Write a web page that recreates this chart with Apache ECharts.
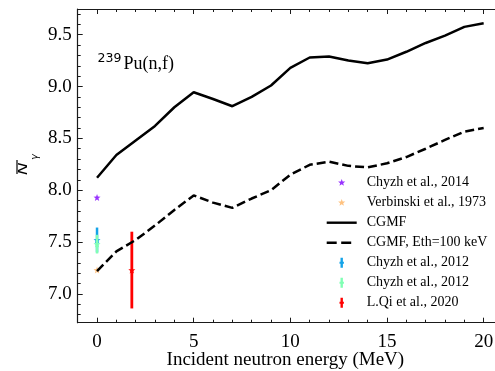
<!DOCTYPE html>
<html><head><meta charset="utf-8">
<script src="https://cdn.jsdelivr.net/npm/echarts@6/dist/echarts.min.js"></script>
<style>html,body{margin:0;padding:0;background:#fff}#c{width:495px;height:371px}</style>
</head><body><div id="c"></div>
<script>
// ---- data ----
const energies = [0,1,2,3,4,5,6,7,8,9,10,11,12,13,14,15,16,17,18,19,20];
const cgmf = [8.12,8.34,8.48,8.62,8.80,8.945,8.88,8.81,8.90,9.01,9.18,9.28,9.29,9.25,9.225,9.26,9.335,9.42,9.49,9.575,9.61];
const cgmfEth100 = [7.22,7.41,7.52,7.66,7.81,7.95,7.88,7.83,7.92,8.00,8.15,8.245,8.275,8.235,8.22,8.26,8.32,8.40,8.485,8.565,8.60];
const chyzh2014 = [[0, 7.93]];
const verbinski1973 = [[0, 7.23]];
const chyzh2012a = [[0, 7.52, 0.12]];
const chyzh2012b = [[0, 7.48, 0.09]];
const qi2020 = [[1.8, 7.23, 0.37]];
const xMajorTicks = [0,5,10,15,20];
const xMinorTicks = [-1,1,2,3,4,6,7,8,9,11,12,13,14,16,17,18,19,21];
const yMajorTicks = [7.0,7.5,8.0,8.5,9.0,9.5];
const yMinorTicks = [6.8,6.9,7.1,7.2,7.3,7.4,7.6,7.7,7.8,7.9,8.1,8.2,8.3,8.4,8.6,8.7,8.8,8.9,9.1,9.2,9.3,9.4,9.6,9.7];
const seriesNames = ['Chyzh et al., 2014','Verbinski et al., 1973','CGMF','CGMF, Eth=100 keV','Chyzh et al., 2012','Chyzh et al., 2012\u200b','L.Qi et al., 2020'];

// ---- styles ----
const SERIF = 'Liberation Serif, Times New Roman, serif';
const AX = '#1a1a1a';
function starPath(cx, cy, R, r) {
  let s = '';
  for (let i = 0; i < 10; i++) {
    const a = -Math.PI / 2 + i * Math.PI / 5;
    const rad = i % 2 ? r : R;
    s += (i ? 'L' : 'M') + (cx + rad * Math.cos(a)).toFixed(2) + ' ' + (cy + rad * Math.sin(a)).toFixed(2);
  }
  return s + 'Z';
}
const STAR = starPath(5, 5, 5, 2.1);
const BOX = 'path://M0 0M35 14';
const iconStar = BOX + starPath(15, 7, 3.8, 1.6);
const iconSolid = BOX + 'M0 5.8H30V8.2H0Z';
const iconDash = BOX + 'M0 5.8H10V8.2H0Z M14.5 5.8H24.5V8.2H14.5Z';
const iconErr = BOX + 'M13.8 2H16.2V12H13.8Z M12.8 6H17.2V8H12.8Z';

const lineOn = { show: true, onZero: false, lineStyle: { color: AX, width: 1.2 } };
const lineOff = { show: false, onZero: false };
const xBase = { type: 'value', min: -1, max: 21, splitLine: { show: false } };
const yMin = 6.7225, yMax = 9.7475;
const yBase = { type: 'value', min: yMin, max: yMax, splitLine: { show: false } };
const tickStyle = { color: AX, width: 1 };

function errRender(color, width) {
  return function (params, api) {
    const x = api.value(0), y = api.value(1), e = api.value(2);
    const t = api.coord([x, y + e]), b = api.coord([x, y - e]), c = api.coord([x, y]);
    return { type: 'group', children: [
      { type: 'line', shape: { x1: t[0], y1: t[1], x2: b[0], y2: b[1] }, style: { stroke: color, lineWidth: width } },
      { type: 'path', shape: { pathData: STAR, x: c[0] - 3.5, y: c[1] - 3.5, width: 7, height: 7 }, style: { fill: color } }
    ] };
  };
}

const chart = echarts.init(document.getElementById('c'), null, { renderer: 'canvas' });
chart.setOption({
  animation: false,
  backgroundColor: '#fff',
  grid: { left: 77.7, top: 9, right: -8, bottom: 48.3, containLabel: false, outerBoundsMode: 'none' },
  xAxis: [
    Object.assign({}, xBase, { position: 'bottom', axisLine: lineOn,
      axisTick: { show: true, inside: true, length: 5, customValues: xMajorTicks, lineStyle: tickStyle },
      axisLabel: { show: true, customValues: xMajorTicks, margin: 10, fontFamily: SERIF, fontSize: 19, color: '#000' },
      name: 'Incident neutron energy (MeV)', nameLocation: 'middle', nameGap: 28, nameMoveOverlap: false,
      nameTextStyle: { fontFamily: SERIF, fontSize: 19, color: '#000', padding: [0, 10, 0, 0] } }),
    Object.assign({}, xBase, { position: 'bottom', axisLine: lineOff,
      axisTick: { show: true, inside: true, length: 3, customValues: xMinorTicks, lineStyle: tickStyle },
      axisLabel: { show: false } }),
    Object.assign({}, xBase, { position: 'top', axisLine: lineOn,
      axisTick: { show: true, inside: true, length: 5, customValues: xMajorTicks, lineStyle: tickStyle },
      axisLabel: { show: false } }),
    Object.assign({}, xBase, { position: 'top', axisLine: lineOff,
      axisTick: { show: true, inside: true, length: 3, customValues: xMinorTicks, lineStyle: tickStyle },
      axisLabel: { show: false } })
  ],
  yAxis: [
    Object.assign({}, yBase, { position: 'left', axisLine: lineOn,
      axisTick: { show: true, inside: true, length: 5, customValues: yMajorTicks, lineStyle: tickStyle },
      axisLabel: { show: true, customValues: yMajorTicks, margin: 6, fontFamily: SERIF, fontSize: 19, color: '#000',
        formatter: v => Number(v).toFixed(1) } }),
    Object.assign({}, yBase, { position: 'left', axisLine: lineOff,
      axisTick: { show: true, inside: true, length: 3, customValues: yMinorTicks, lineStyle: tickStyle },
      axisLabel: { show: false } })
  ],
  legend: {
    orient: 'vertical', left: 326.7, top: 172.7, padding: 0, itemGap: 0,
    itemWidth: 35, itemHeight: 14, selectedMode: false,
    itemStyle: { borderWidth: 0 },
    textStyle: { fontFamily: SERIF, fontSize: 14, color: '#000', lineHeight: 20 },
    data: [
      { name: seriesNames[0], icon: iconStar },
      { name: seriesNames[1], icon: iconStar },
      { name: seriesNames[2], icon: iconSolid },
      { name: seriesNames[3], icon: iconDash },
      { name: seriesNames[4], icon: iconErr },
      { name: seriesNames[5], icon: iconErr },
      { name: seriesNames[6], icon: iconErr }
    ]
  },
  graphic: [
    { type: 'text', x: 97.5, y: 58.5, style: { text: '239', font: '12.5px DejaVu Sans', fill: '#000', verticalAlign: 'middle', align: 'left' } },
    { type: 'text', x: 123.5, y: 64.5, style: { text: 'Pu(n,f)', font: '18px ' + SERIF, fill: '#000', verticalAlign: 'middle', align: 'left' } },
    { type: 'group', x: 30.5, y: 175, rotation: Math.PI / 2, children: [
      { type: 'text', x: 0, y: 0, scaleX: 1.45, style: { text: 'N', font: 'italic 11.5px DejaVu Sans', fill: '#000', align: 'left', verticalAlign: 'bottom' } },
      { type: 'line', shape: { x1: 1, y1: -13.5, x2: 15, y2: -13.5 }, style: { stroke: '#000', lineWidth: 1.2 } },
      { type: 'text', x: 15, y: 4.5, style: { text: 'γ', font: 'italic 10px DejaVu Sans', fill: '#000', align: 'left', verticalAlign: 'middle' } }
    ] }
  ],
  series: [
    { name: seriesNames[3], type: 'line', xAxisIndex: 0, yAxisIndex: 0,
      data: energies.map((e, i) => [e, cgmfEth100[i]]), symbol: 'none', showSymbol: false,
      lineStyle: { color: '#000', width: 2.5, type: [9, 4] }, itemStyle: { color: '#000' }, z: 3 },
    { name: seriesNames[2], type: 'line', xAxisIndex: 0, yAxisIndex: 0,
      data: energies.map((e, i) => [e, cgmf[i]]), symbol: 'none', showSymbol: false,
      lineStyle: { color: '#000', width: 2.5 }, itemStyle: { color: '#000' }, z: 3 },
    { name: seriesNames[0], type: 'scatter', data: chyzh2014, symbol: 'path://' + STAR, symbolSize: 7,
      itemStyle: { color: '#8000ff' }, z: 2 },
    { name: seriesNames[1], type: 'scatter', data: verbinski1973, symbol: 'path://' + STAR, symbolSize: 7,
      itemStyle: { color: '#ffb360' }, z: 2 },
    { name: seriesNames[4], type: 'custom', data: chyzh2012a, renderItem: errRender('#14a3e8', 2.5),
      itemStyle: { color: '#14a3e8' }, clip: false, z: 2 },
    { name: seriesNames[5], type: 'custom', data: chyzh2012b, renderItem: errRender('#80ffb4', 2.5),
      itemStyle: { color: '#80ffb4' }, clip: false, z: 2 },
    { name: seriesNames[6], type: 'custom', data: qi2020, renderItem: errRender('#ff0000', 2.8),
      itemStyle: { color: '#ff0000' }, clip: false, z: 2 }
  ]
});
</script></body></html>
